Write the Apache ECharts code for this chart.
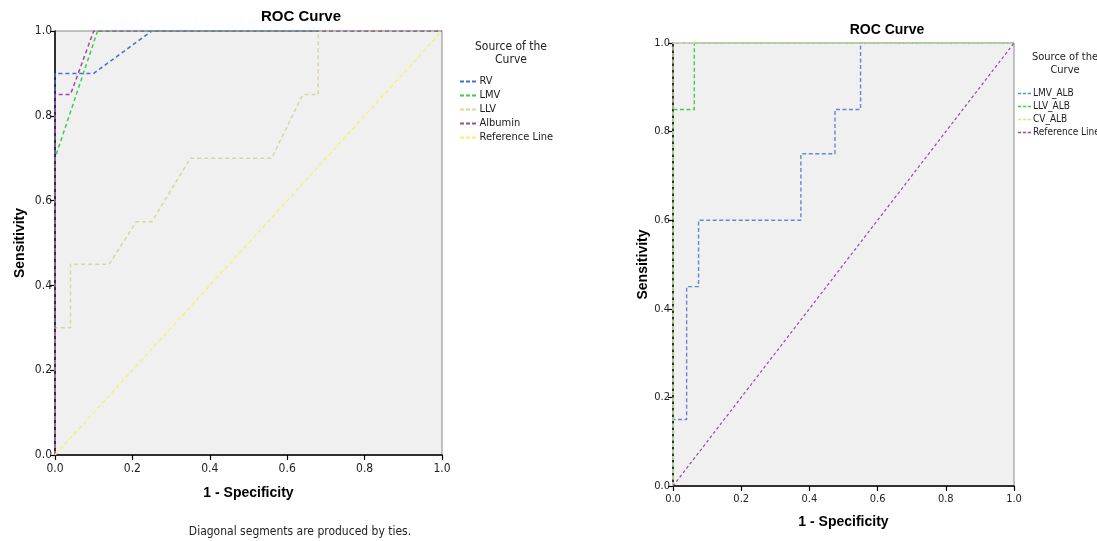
<!DOCTYPE html>
<html>
<head>
<meta charset="utf-8">
<script src="https://cdn.jsdelivr.net/npm/echarts@6/dist/echarts.min.js"></script>
<style>
html,body{margin:0;padding:0;background:#fff;}
#c{width:1097px;height:541px;}
</style>
</head>
<body>
<div id="c"></div>
<script>
// ---- data (1 - Specificity, Sensitivity) ----
const tickLabels = ['0.0','0.2','0.4','0.6','0.8','1.0'];

// Left chart
const leftNames = ['RV', 'LMV', 'LLV', 'Albumin', 'Reference Line'];
const rvPts = [[0,0],[0,0.9],[0.1,0.9],[0.25,1],[1,1]];
const lmvPts = [[0,0],[0,0.7],[0.11,1],[1,1]];
const llvPts = [[0,0],[0,0.3],[0.04,0.3],[0.04,0.45],[0.14,0.45],[0.21,0.55],[0.25,0.55],[0.35,0.7],[0.56,0.7],[0.64,0.85],[0.68,0.85],[0.68,1],[1,1]];
const albuminPts = [[0,0],[0,0.85],[0.04,0.85],[0.1,1],[1,1]];
const refLeftPts = [[0,0],[1,1]];

// Right chart
const rightNames = ['LMV_ALB', 'LLV_ALB', 'CV_ALB', 'Reference Line '];
const lmvAlbPts = [[0,0],[0,0.15],[0.04,0.15],[0.04,0.45],[0.075,0.45],[0.075,0.6],[0.375,0.6],[0.375,0.75],[0.475,0.75],[0.475,0.85],[0.55,0.85],[0.55,1],[1,1]];
const llvAlbPts = [[0,0],[0,0.85],[0.0625,0.85],[0.0625,1],[1,1]];
const cvAlbPts = [[0,0],[0,1],[1,1]];
const refRightPts = [[0,0],[1,1]];

const leftColors = ['#4a6bd0', '#3ccc50', '#d9d5a0', '#9a48a8', '#f6f26e'];
const rightColors = ['#6a84d4', '#45c94e', '#dcdbad', '#9a46ad'];

const FONT = "'DejaVu Sans Condensed', 'Liberation Sans', Arial, sans-serif";
const dashIcon = 'path://M0,0H4V2H0Z M6,0H10V2H6Z M12,0H16V2H12Z';

function axis(gridIndex, isX, fontSize, name, nameGap) {
  return {
    type: 'value', gridIndex, min: 0, max: 1, interval: 0.2,
    name, nameLocation: 'middle', nameGap,
    nameRotate: isX ? 0 : 90,
    nameTextStyle: {fontFamily: "'Liberation Sans', Arial, sans-serif", fontWeight: 'bold', fontSize: 14, color: '#000'},
    axisLine: {show: true, lineStyle: {color: '#000', width: 1.5}},
    axisTick: {show: true, inside: false, length: 5, lineStyle: {color: '#000', width: 1.2}},
    axisLabel: {fontFamily: FONT, fontSize, color: '#222', margin: isX ? 8 : 3,
      formatter: v => tickLabels[Math.round(v / 0.2)]},
    splitLine: {show: false}
  };
}

function lineSeries(name, data, color, xi, yi, dash, width) {
  return {
    type: 'line', name, data, xAxisIndex: xi, yAxisIndex: yi,
    color, itemStyle: {color}, symbol: 'none', silent: true, animation: false,
    lineStyle: {color, width: width || 1.5, type: dash || [4, 3]}
  };
}

function legendData(names, colors) {
  return names.map((n, i) => ({name: n, icon: dashIcon, itemStyle: {color: colors[i], borderWidth: 0}}));
}

const chart = echarts.init(document.getElementById('c'), null, {renderer: 'canvas'});
chart.setOption({
  animation: false,
  title: [
    {text: 'ROC Curve', left: 296, top: 4, textAlign: 'center',
      textStyle: {fontFamily: "'Liberation Sans', Arial, sans-serif", fontWeight: 'bold', fontSize: 15, color: '#000'}},
    {text: 'ROC Curve', left: 882, top: 18, textAlign: 'center',
      textStyle: {fontFamily: "'Liberation Sans', Arial, sans-serif", fontWeight: 'bold', fontSize: 14, color: '#000'}},
    {text: 'Source of the\nCurve', left: 506, top: 35, textAlign: 'center',
      textStyle: {fontFamily: FONT, fontWeight: 'normal', fontSize: 12, lineHeight: 13, color: '#222'}},
    {text: 'Source of the\nCurve', left: 1060, top: 46, textAlign: 'center',
      textStyle: {fontFamily: FONT, fontWeight: 'normal', fontSize: 11, lineHeight: 13, color: '#222'}},
    {text: 'Diagonal segments are produced by ties.', left: 295, top: 521, textAlign: 'center',
      textStyle: {fontFamily: FONT, fontWeight: 'normal', fontSize: 12, color: '#222'}}
  ],
  legend: [
    {data: legendData(leftNames, leftColors), orient: 'vertical', left: 455, top: 71, itemWidth: 17, itemHeight: 2, itemGap: 3,
      selectedMode: false,
      textStyle: {fontFamily: FONT, fontSize: 11, color: '#222', lineHeight: 11, padding: [0,0,0,-2]}},
    {data: legendData(rightNames, rightColors), orient: 'vertical', left: 1013, top: 83, itemWidth: 13, itemHeight: 2, itemGap: 2,
      selectedMode: false,
      textStyle: {fontFamily: FONT, fontSize: 10, color: '#222', lineHeight: 11, padding: [0,0,0,-3]}}
  ],
  grid: [
    {left: 55, top: 31, width: 387, height: 424, show: true, backgroundColor: '#f0f0f0', borderColor: '#8a8a8a', borderWidth: 1},
    {left: 673, top: 43, width: 341, height: 443, show: true, backgroundColor: '#f0f0f0', borderColor: '#8a8a8a', borderWidth: 1}
  ],
  xAxis: [
    axis(0, true, 12, '1 - Specificity', 31),
    axis(1, true, 11, '1 - Specificity', 29)
  ],
  yAxis: [
    axis(0, false, 12, 'Sensitivity', 28),
    axis(1, false, 11, 'Sensitivity', 23)
  ],
  series: [
    lineSeries(leftNames[0], rvPts, leftColors[0], 0, 0),
    lineSeries(leftNames[1], lmvPts, leftColors[1], 0, 0),
    lineSeries(leftNames[2], llvPts, leftColors[2], 0, 0),
    lineSeries(leftNames[3], albuminPts, leftColors[3], 0, 0),
    lineSeries(leftNames[4], refLeftPts, leftColors[4], 0, 0),
    lineSeries(rightNames[0], lmvAlbPts, rightColors[0], 1, 1, [4, 2.5], 1.4),
    lineSeries(rightNames[1], llvAlbPts, rightColors[1], 1, 1, [4, 2.5], 1.4),
    lineSeries(rightNames[2], cvAlbPts, rightColors[2], 1, 1, [4, 2.5], 1.4),
    lineSeries(rightNames[3], refRightPts, rightColors[3], 1, 1, [3, 2.5], 1.2)
  ]
});
</script>
</body>
</html>
